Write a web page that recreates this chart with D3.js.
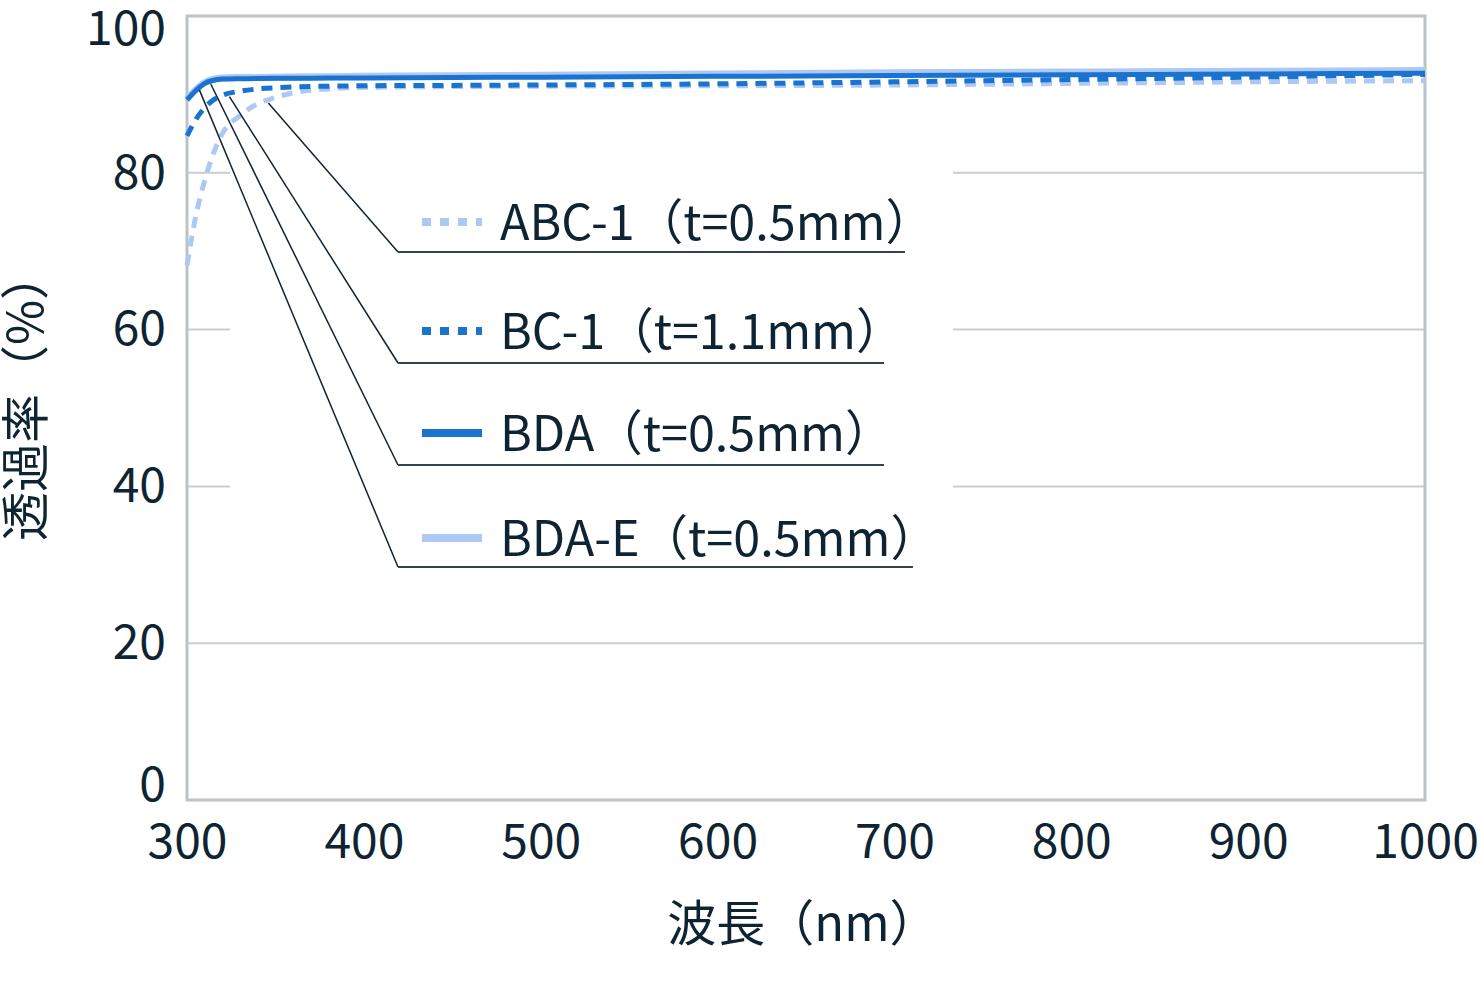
<!DOCTYPE html>
<html>
<head>
<meta charset="utf-8">
<script src="https://cdn.jsdelivr.net/npm/d3@7"></script>
<style>
  body { margin: 0; background: #fff; }
  text { font-family: "Noto Sans CJK JP", "Noto Sans", sans-serif; fill: #0e2433; }
</style>
</head>
<body>
<svg id="chart" width="1480" height="991"></svg>
<script>
// wavelengths (nm)
var wavelengths = [300, 305, 310, 315, 320, 330, 340, 350, 360, 380, 400, 450, 500, 600, 700, 800, 900, 1000];

// transmittance (%)
var abc1 = [68.2, 74.5, 79.0, 82.5, 85.0, 87.3, 88.8, 89.6, 90.2, 90.7, 90.9, 91.0, 91.05, 91.1, 91.2, 91.4, 91.6, 91.75];
var bc1  = [84.7, 86.8, 88.3, 89.3, 89.9, 90.4, 90.7, 90.85, 90.95, 91.05, 91.1, 91.15, 91.2, 91.35, 91.6, 91.9, 92.2, 92.55];
var bda  = [89.3, 90.5, 91.4, 91.8, 91.95, 92.0, 92.02, 92.05, 92.06, 92.08, 92.1, 92.15, 92.2, 92.3, 92.4, 92.5, 92.6, 92.7];
var bdaE = [89.4, 90.6, 91.5, 91.95, 92.1, 92.15, 92.17, 92.2, 92.22, 92.26, 92.3, 92.38, 92.45, 92.6, 92.75, 92.85, 92.95, 93.05];

var seriesNames = ["ABC-1（t=0.5mm）", "BC-1（t=1.1mm）", "BDA（t=0.5mm）", "BDA-E（t=0.5mm）"];
// where each leader line touches its curve (nm)
var leaderAt = [346, 324, 313.5, 307];

var xTicks = [300, 400, 500, 600, 700, 800, 900, 1000];
var yTicks = [0, 20, 40, 60, 80, 100];

var dark = "#1a73cf", light = "#aec8f4";

var styles = [
  { color: light, width: 5, dash: "11,8" },
  { color: dark, width: 5, dash: "11,8" },
  { color: dark, width: 5, dash: null },
  { color: light, width: 7, dash: null }
];
var values = [abc1, bc1, bda, bdaE];

var svg = d3.select("#chart");
var margin = { left: 187, right: 55, top: 16, bottom: 191 };
var W = 1480, H = 991;

var x = d3.scaleLinear().domain([300, 1000]).range([margin.left, W - margin.right]);
var y = d3.scaleLinear().domain([0, 100]).range([H - margin.bottom, margin.top]);

// grid
svg.append("g")
    .selectAll("line.grid")
    .data(yTicks.filter(function(d) { return d > 0 && d < 100; }))
    .enter()
    .append("line")
    .attr("x1", x(300)).attr("x2", x(1000))
    .attr("y1", function(d) { return y(d); })
    .attr("y2", function(d) { return y(d); })
    .attr("stroke", "#c9ced2")
    .attr("stroke-width", 2);

// white panel behind the legend hides the grid
svg.append("rect")
    .attr("x", 230).attr("y", 150)
    .attr("width", 723).attr("height", 450)
    .attr("fill", "#fff");

// frame
svg.append("rect")
    .attr("x", x(300)).attr("y", y(100))
    .attr("width", x(1000) - x(300)).attr("height", y(0) - y(100))
    .attr("fill", "none")
    .attr("stroke", "#bcc3c8")
    .attr("stroke-width", 3);

// axes (labels only)
var yAxis = svg.append("g")
    .attr("transform", "translate(" + (x(300) - 21) + ",0)")
    .call(d3.axisLeft(y).tickValues(yTicks).tickSize(0).tickPadding(0));
yAxis.select(".domain").remove();
yAxis.selectAll("text")
    .style("font-family", '"Noto Sans CJK JP", sans-serif')
    .attr("font-size", 48)
    .attr("fill", "#0e2433")
    .attr("dy", function(d) { return d == 100 ? "0.6em" : d == 0 ? "0.0em" : "0.32em"; });

var xAxis = svg.append("g")
    .attr("transform", "translate(0," + (y(0) + 23) + ")")
    .call(d3.axisBottom(x).tickValues(xTicks).tickFormat(d3.format("d")).tickSize(0).tickPadding(0));
xAxis.select(".domain").remove();
xAxis.selectAll("text")
    .style("font-family", '"Noto Sans CJK JP", sans-serif')
    .attr("font-size", 48)
    .attr("fill", "#0e2433")
    .attr("dy", "0.72em");

svg.append("text")
    .attr("x", 803).attr("y", 941)
    .attr("text-anchor", "middle")
    .attr("font-size", 49)
    .text("波長（nm）");

svg.append("text")
    .attr("transform", "translate(43,396) rotate(-90)")
    .attr("text-anchor", "middle")
    .attr("font-size", 49)
    .text("透過率（%）");

// curves
var line = d3.line()
    .x(function(d) { return x(d[0]); })
    .y(function(d) { return y(d[1]); })
    .curve(d3.curveMonotoneX);

var order = [0, 1, 3, 2];
order.forEach(function(i) {
  var pts = wavelengths.map(function(w, k) { return [w, values[i][k]]; });
  svg.append("path")
      .datum(pts)
      .attr("d", line)
      .attr("fill", "none")
      .attr("stroke", styles[i].color)
      .attr("stroke-width", styles[i].width)
      .attr("stroke-dasharray", styles[i].dash);
});

// legend with leader lines
var legendY = [222, 331, 433, 538];
var underlineY = [252, 363, 465, 567];
var underlineEnd = [905, 884, 884, 913];

seriesNames.forEach(function(name, i) {
  var interp = d3.scaleLinear().domain(wavelengths).range(values[i]);
  var lx = x(leaderAt[i]), ly = y(interp(leaderAt[i])) + 3;

  svg.append("line")
      .attr("x1", lx).attr("y1", ly)
      .attr("x2", 398).attr("y2", underlineY[i])
      .attr("stroke", "#0e2433")
      .attr("stroke-width", 1.5);
  svg.append("line")
      .attr("x1", 398).attr("x2", underlineEnd[i])
      .attr("y1", underlineY[i]).attr("y2", underlineY[i])
      .attr("stroke", "#2f4350")
      .attr("stroke-width", 2);

  svg.append("line")
      .attr("x1", 422).attr("x2", 482)
      .attr("y1", legendY[i]).attr("y2", legendY[i])
      .attr("stroke", styles[i].color)
      .attr("stroke-width", 8)
      .attr("stroke-dasharray", styles[i].dash ? "9,9" : null);

  svg.append("text")
      .attr("x", 500).attr("y", legendY[i] + 18)
      .attr("font-size", 48.5)
      .text(name);
});
</script>
</body>
</html>
